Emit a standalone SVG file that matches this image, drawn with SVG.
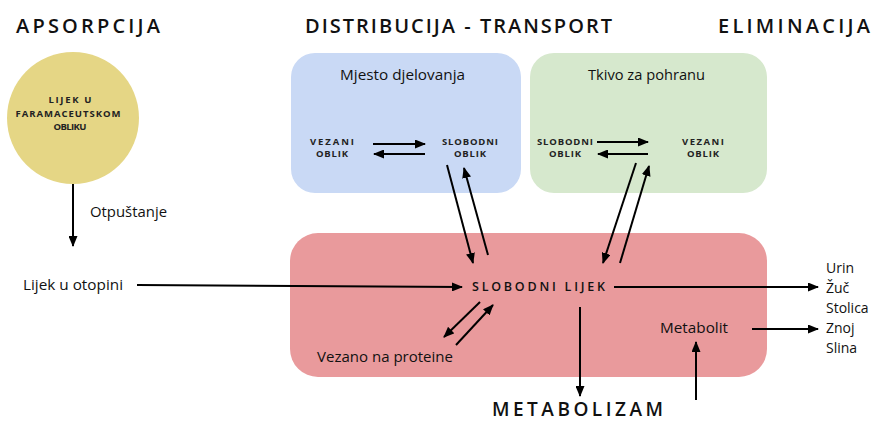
<svg xmlns="http://www.w3.org/2000/svg" width="874" height="421" viewBox="0 0 874 421">
<style>
.h{font-family:"Open Sans","DejaVu Sans",sans-serif;font-weight:600;fill:#111;}
.b{font-family:"Open Sans","Liberation Sans",sans-serif;font-size:14px;fill:#111;}
.s{font-family:"Open Sans","DejaVu Sans",sans-serif;font-size:9.5px;font-weight:700;fill:#222;text-anchor:middle;}
.a{stroke:#000;stroke-width:2;fill:none;}
</style>
<defs>
<marker id="ah" markerUnits="userSpaceOnUse" markerWidth="11" markerHeight="9" refX="10" refY="4.5" orient="auto">
<path d="M0,0 L11,4.5 L0,9 z" fill="#000"/>
</marker>
</defs>
<rect width="874" height="421" fill="#fff"/>
<g id="headers">
<text class="h" x="16" y="33" font-size="20" textLength="144" lengthAdjust="spacing">APSORPCIJA</text>
<text class="h" x="305" y="33" font-size="20" textLength="307" lengthAdjust="spacing">DISTRIBUCIJA - TRANSPORT</text>
<text class="h" x="718" y="33" font-size="20" textLength="152" lengthAdjust="spacing">ELIMINACIJA</text>
</g>
<g id="box-mjesto">
<rect x="291" y="53" width="230" height="140" rx="24" fill="#c9d9f5"/>
<text class="b" x="340" y="80" font-size="15" textLength="125" lengthAdjust="spacingAndGlyphs">Mjesto djelovanja</text>
<text class="s" x="332" y="145" textLength="44" lengthAdjust="spacing">VEZANI</text>
<text class="s" x="332" y="157" textLength="32" lengthAdjust="spacing">OBLIK</text>
<text class="s" x="470" y="145" textLength="56" lengthAdjust="spacing">SLOBODNI</text>
<text class="s" x="470" y="157" textLength="32" lengthAdjust="spacing">OBLIK</text>
</g>
<g id="box-tkivo">
<rect x="530" y="53" width="237" height="140" rx="24" fill="#d6e8cd"/>
<text class="b" x="588" y="80" font-size="15" textLength="117" lengthAdjust="spacingAndGlyphs">Tkivo za pohranu</text>
<text class="s" x="565" y="145" textLength="56" lengthAdjust="spacing">SLOBODNI</text>
<text class="s" x="565" y="157" textLength="32" lengthAdjust="spacing">OBLIK</text>
<text class="s" x="703" y="145" textLength="42" lengthAdjust="spacing">VEZANI</text>
<text class="s" x="703" y="157" textLength="32" lengthAdjust="spacing">OBLIK</text>
</g>
<g id="box-krv">
<rect x="290" y="233" width="477" height="144" rx="28" fill="#e99a9c"/>
<text class="h" x="472" y="291" font-size="12.5" font-weight="500" textLength="133" lengthAdjust="spacing">SLOBODNI LIJEK</text>
<text class="b" x="317" y="362" font-size="15" textLength="136" lengthAdjust="spacingAndGlyphs">Vezano na proteine</text>
<text class="b" x="660" y="333" font-size="15" textLength="68" lengthAdjust="spacingAndGlyphs">Metabolit</text>
</g>
<g id="lijek-oblik">
<circle cx="73" cy="118" r="66" fill="#e5d685"/>
<text class="s" x="70" y="103" textLength="43" lengthAdjust="spacing">LIJEK U</text>
<text class="s" x="68" y="117" textLength="105" lengthAdjust="spacing">FARAMACEUTSKOM</text>
<text class="s" x="70" y="130" textLength="33" lengthAdjust="spacing">OBLIKU</text>
</g>
<g id="labels">
<text class="b" x="90" y="217" font-size="15" textLength="77" lengthAdjust="spacingAndGlyphs">Otpuštanje</text>
<text class="b" x="23" y="290" font-size="15" textLength="100" lengthAdjust="spacingAndGlyphs">Lijek u otopini</text>
<text class="b" x="826" y="273" font-size="15">Urin</text>
<text class="b" x="826" y="293" font-size="15">Žuč</text>
<text class="b" x="826" y="313" font-size="15">Stolica</text>
<text class="b" x="826" y="333" font-size="15">Znoj</text>
<text class="b" x="826" y="353" font-size="15">Slina</text>
<text class="h" x="492" y="416" font-size="19" font-weight="500" textLength="171" lengthAdjust="spacing">METABOLIZAM</text>
</g>
<g id="connectors">
<line class="a" x1="73" y1="184" x2="73" y2="246" marker-end="url(#ah)"/>
<line class="a" x1="137" y1="285" x2="462" y2="287" marker-end="url(#ah)"/>
<line class="a" x1="373" y1="144" x2="425" y2="144" marker-end="url(#ah)"/>
<line class="a" x1="425" y1="154" x2="374" y2="154" marker-end="url(#ah)"/>
<line class="a" x1="597" y1="142" x2="648" y2="142" marker-end="url(#ah)"/>
<line class="a" x1="648" y1="154" x2="598" y2="154" marker-end="url(#ah)"/>
<line class="a" x1="447" y1="165" x2="473" y2="263" marker-end="url(#ah)"/>
<line class="a" x1="488" y1="255" x2="464" y2="168" marker-end="url(#ah)"/>
<line class="a" x1="636" y1="163" x2="603" y2="263" marker-end="url(#ah)"/>
<line class="a" x1="620" y1="263" x2="649" y2="166" marker-end="url(#ah)"/>
<line class="a" x1="480" y1="302" x2="444" y2="337" marker-end="url(#ah)"/>
<line class="a" x1="456" y1="345" x2="493" y2="305" marker-end="url(#ah)"/>
<line class="a" x1="614" y1="287" x2="818" y2="287" marker-end="url(#ah)"/>
<line class="a" x1="580" y1="307" x2="580" y2="396" marker-end="url(#ah)"/>
<line class="a" x1="752" y1="329" x2="818" y2="329" marker-end="url(#ah)"/>
<line class="a" x1="696" y1="400" x2="696" y2="342" marker-end="url(#ah)"/>
</g>
</svg>
